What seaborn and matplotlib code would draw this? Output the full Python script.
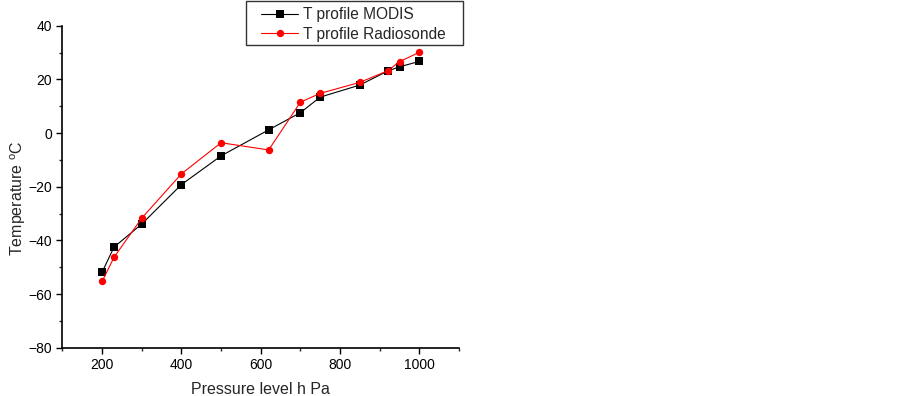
import matplotlib.pyplot as plt
import pandas as pd
import seaborn as sns
from matplotlib.patches import Rectangle
from matplotlib.ticker import MultipleLocator

pressure = [200, 230, 300, 400, 500, 620, 700, 750, 850, 920, 950, 1000]
t_modis = [-51.8, -42.5, -33.9, -19.2, -8.5, 1.2, 7.6, 13.4, 17.9, 23.1, 24.7, 26.7]
t_radiosonde = [-55.3, -46.3, -31.7, -15.2, -3.6, -6.3, 11.5, 14.8, 18.9, 23.2, 26.6, 30.1]
series = ['T profile MODIS', 'T profile Radiosonde']

df = pd.concat([
    pd.DataFrame({'pressure': pressure, 'temp': t_modis, 'series': series[0]}),
    pd.DataFrame({'pressure': pressure, 'temp': t_radiosonde, 'series': series[1]}),
])

sns.set_style('ticks')
plt.rcParams['font.family'] = ['Liberation Sans', 'DejaVu Sans']

W, H = 903, 396
fig = plt.figure(figsize=(W / 100, H / 100), dpi=100)
ax = fig.add_axes([0.0692, 0.122, 0.4391, 0.813])

sns.lineplot(
    data=df, x='pressure', y='temp', hue='series', style='series',
    palette={series[0]: 'black', series[1]: 'red'},
    markers={series[0]: 's', series[1]: 'o'}, dashes=False,
    markersize=5.3, markeredgewidth=0, linewidth=0.8, ax=ax, legend=True,
)

ax.set_xlim(100, 1100)
ax.set_ylim(-80, 40)
ax.xaxis.set_major_locator(MultipleLocator(200))
ax.xaxis.set_minor_locator(MultipleLocator(100))
ax.yaxis.set_major_locator(MultipleLocator(20))
ax.yaxis.set_minor_locator(MultipleLocator(10))
ax.tick_params(which='major', direction='out', length=4, width=1, labelsize=10, colors='black')
ax.tick_params(which='minor', direction='out', length=2.5, width=1)
ax.spines['top'].set_visible(False)
ax.spines['right'].set_visible(False)
for s in ['left', 'bottom']:
    ax.spines[s].set_color('black')
    ax.spines[s].set_linewidth(1.2)

ax.set_xlabel('Pressure level h Pa', fontsize=11.5)
ax.xaxis.set_label_coords(0.5, -0.108)
ax.set_ylabel(r'Temperature $\mathregular{^oC}$', fontsize=11.5)
ax.yaxis.set_label_coords(-0.086, 0.465)

# legend: frameless entries inside a hand-drawn box (wide side padding)
handles, labels = ax.get_legend_handles_labels()
ax.get_legend().remove()
fig.add_artist(Rectangle(
    (246 / W, 1 - 45 / H), (463 - 246) / W, 44 / H, transform=fig.transFigure,
    facecolor='white', edgecolor='#333333', linewidth=1.0, zorder=5,
))
leg = fig.legend(
    handles, labels, loc='upper left', bbox_to_anchor=(261 / W, 1 - 7 / H),
    fontsize=11.2, frameon=False, borderpad=0, labelspacing=0.3,
    handlelength=2.4, handletextpad=0.3, borderaxespad=0,
)
leg.set_zorder(6)

fig.savefig('out.png', dpi=100)
